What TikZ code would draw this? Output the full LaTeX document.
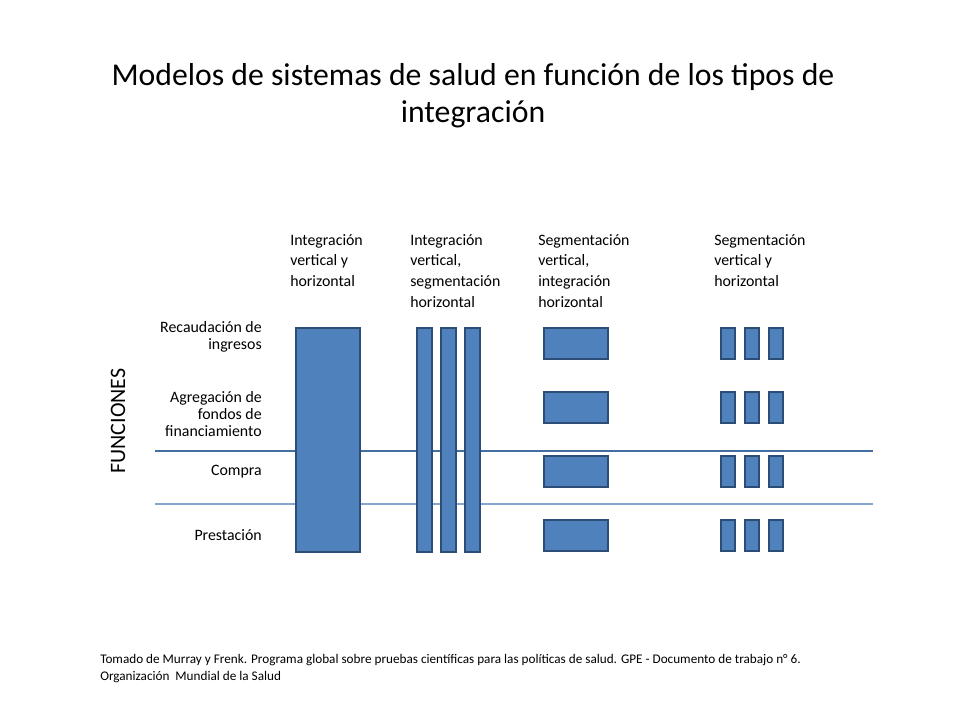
\documentclass[tikz,border=0pt]{standalone}
\usepackage{fontspec}
\setmainfont{Carlito}
\usetikzlibrary{positioning}
\definecolor{barfill}{HTML}{4F81BD}
\definecolor{barline}{HTML}{2C4D75}
\tikzset{
  bar/.style={draw=barline, fill=barfill, line width=0.8pt},
  header/.style={anchor=north west, align=left, font=\fontsize{11.9}{15.5}\selectfont, inner sep=0pt},
  rowlabel/.style={anchor=east, align=right, font=\fontsize{11.9}{12.8}\selectfont, inner sep=0pt},
}
\begin{document}
\begin{tikzpicture}[x=0.75pt,y=-0.75pt]
  \useasboundingbox (0,0) rectangle (960,720);

  % title
  \node[align=center, font=\fontsize{23.8}{28}\selectfont] (title) at (473,96)
    {Modelos de sistemas de salud en función de los tipos de\\integración};

  % column headers
  \node[header] (h1) at (290,234) {Integración\\vertical y\\horizontal};
  \node[header] (h2) at (410,234) {Integración\\vertical,\\segmentación\\horizontal};
  \node[header] (h3) at (538,234) {Segmentación\\vertical,\\integración\\horizontal};
  \node[header] (h4) at (714,234) {Segmentación\\vertical y\\horizontal};

  % row labels
  \node[rowlabel] (r1) at (262,337) {Recaudación de\\ingresos};
  \node[rowlabel] (r2) at (262,414) {Agregación de\\fondos de\\financiamiento};
  \node[rowlabel] (r3) at (262,472) {Compra};
  \node[rowlabel] (r4) at (262,535) {Prestación};
  \node[rotate=90, font=\fontsize{16.5}{18}\selectfont] (fun) at (118,421) {FUNCIONES};

  % separators
  \draw[barfill!85!black, line width=1pt] (155,451) -- (873,451);
  \draw[barfill!70!white, line width=0.8pt] (155,504) -- (873,504);

  % column 1
  \draw[bar] (296,328) rectangle (360,552);
  % column 2
  \foreach \x in {417,441,465}
    \draw[bar] (\x,328) rectangle ++(15,224);
  % columns 3 and 4
  \foreach \y in {328,392,456,520}{
    \draw[bar] (544,\y) rectangle ++(64,31);
    \foreach \x in {721,745,769}
      \draw[bar] (\x,\y) rectangle ++(14,31);
  }

  % source
  \node[anchor=north west, align=left, inner sep=0pt, font=\fontsize{9.9}{12.8}\selectfont] (src) at (100,654)
    {Tomado de Murray y Frenk. Programa global sobre pruebas científicas para las políticas de salud. GPE - Documento de trabajo n° 6.\\Organización~ Mundial de la Salud};
\end{tikzpicture}
\end{document}
